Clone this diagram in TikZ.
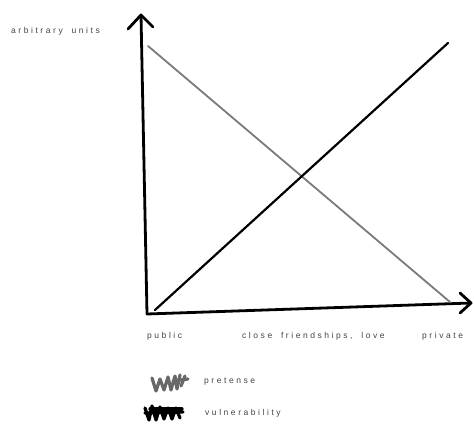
\documentclass[tikz,border=0pt]{standalone}
\usepackage{fontspec}
\newfontfamily\hand[LetterSpace=30,WordSpace=1.8]{Liberation Sans}
\usetikzlibrary{arrows.meta}
\definecolor{txt}{HTML}{444444}
\definecolor{grayline}{HTML}{7A7A7A}
\tikzset{
  lbl/.style={font=\hand\fontsize{8.5}{10}\selectfont, text=txt, inner sep=0pt, anchor=west},
  axis/.style={line width=2.8pt, black, line cap=round, line join=round},
  pret/.style={line width=1.8pt, grayline, line cap=round},
  vuln/.style={line width=2.2pt, black, line cap=round},
  scribg/.style={line width=3.2pt, grayline!85!black, line cap=round, line join=round},
  scribb/.style={line width=3.2pt, black, line cap=round, line join=round}
}
\begin{document}
\begin{tikzpicture}[x=1pt,y=-1pt]
\useasboundingbox (0,0) rectangle (474,429);
% coordinates
\coordinate (o) at (147,314);
\coordinate (ytop) at (141,15);
\coordinate (xend) at (471,303);
% axes
\draw[axis] (o) -- (ytop);
\draw[axis] (128,29) -- (ytop) -- (153,27);
\draw[axis] (o) -- (xend);
\draw[axis] (460,293) -- (xend) -- (460,313);
% lines
\coordinate (p1) at (148,46);
\coordinate (p2) at (450,302);
\coordinate (v1) at (155,310);
\coordinate (v2) at (448,43);
\draw[pret] (p1) -- (p2);
\draw[vuln] (v1) -- (v2);
% labels
\node[lbl] (au) at (11,31) {arbitrary units};
\node[lbl] (pub) at (147,336) {public};
\node[lbl] (cfl) at (242,336) {close friendships, love};
\node[lbl] (pri) at (422,336) {private};
% legend
\draw[scribg] (152,378) -- (156,391) -- (160,379) -- (164,390) -- (168,377) -- (171,390) -- (175,376) -- (177,389) -- (180,375);
\draw[scribg] (173,381) -- (188,379);
\draw[scribg] (181,386) -- (185,376);
\node[lbl] (pre) at (204,382) {pretense};
\draw[scribb] (145,408) -- (149,420) -- (152,406) -- (156,420) -- (160,407) -- (164,419) -- (168,408) -- (172,419) -- (176,408) -- (180,418);
\draw[scribb] (145,413) -- (183,412);
\draw[scribb] (150,409) -- (182,409);
\node[lbl] (vul) at (205,413) {vulnerability};
\end{tikzpicture}
\end{document}
